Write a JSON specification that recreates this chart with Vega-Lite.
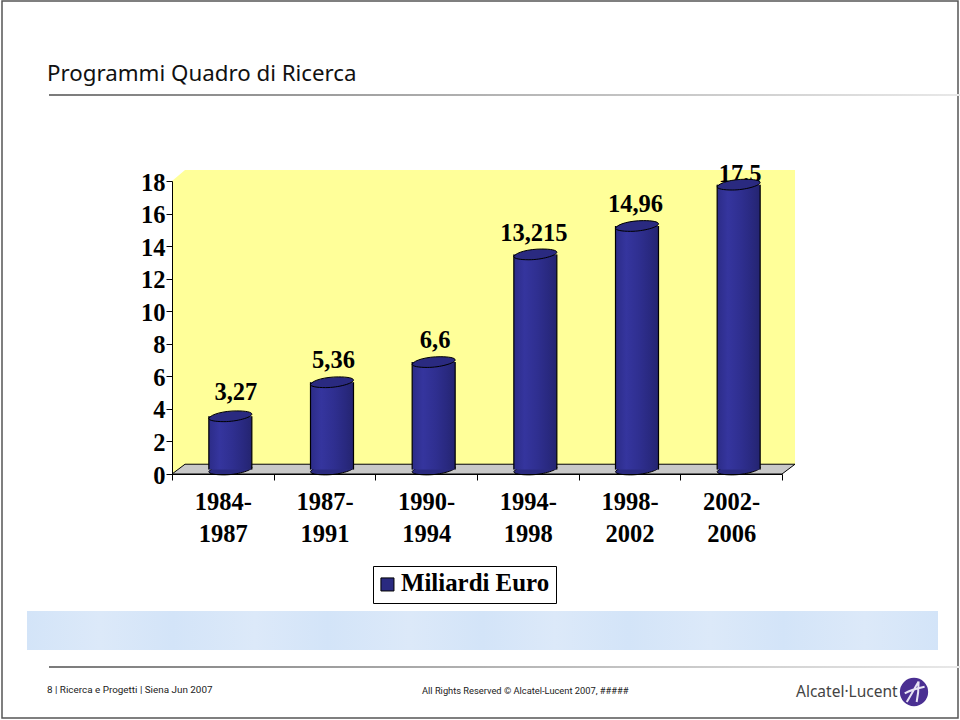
{
"$schema":"https://vega.github.io/schema/vega-lite/v6.json",
"width":610,"height":293,
"autosize":{"type":"none"},
"padding":{"left":172,"top":181,"right":178,"bottom":246},
"background":"white",
"title":{"text":"Programmi Quadro di Ricerca","anchor":"start","frame":"group","dx":-125,"offset":-85,"font":"Noto Sans","fontSize":22.3,"fontWeight":"normal","color":"#111111"},
"config":{"view":{"stroke":null}},
"datasets":{
"bars":[
{"periodo":"1984-1987","miliardi":3.27,"etichetta":"3,27","serie":"Miliardi Euro"},
{"periodo":"1987-1991","miliardi":5.36,"etichetta":"5,36","serie":"Miliardi Euro"},
{"periodo":"1990-1994","miliardi":6.6,"etichetta":"6,6","serie":"Miliardi Euro"},
{"periodo":"1994-1998","miliardi":13.215,"etichetta":"13,215","serie":"Miliardi Euro"},
{"periodo":"1998-2002","miliardi":14.96,"etichetta":"14,96","serie":"Miliardi Euro"},
{"periodo":"2002-2006","miliardi":17.5,"etichetta":"17,5","serie":"Miliardi Euro"}
],
"wall":[{"s":0,"a":0,"b":18},{"s":0.128,"a":0.6,"b":18.67},{"s":6.128,"a":0.6,"b":18.67}],
"floor":[{"s":0,"a":0,"b":0},{"s":0.128,"a":0,"b":0.6},{"s":6,"a":0,"b":0.6},{"s":6.128,"a":0.6,"b":0.6}]
},
"resolve":{"scale":{"x":"independent","y":"independent","color":"independent"},"axis":{"x":"independent","y":"independent"}},
"layer":[
{
"layer":[
{"data":{"values":[{"x0":2,"x1":958,"y0":1,"y1":718}]},
 "mark":{"type":"rect","fill":"white","stroke":"#555555","strokeWidth":1.5},
 "encoding":{"x":{"field":"x0","type":"quantitative","axis":null,"scale":{"domain":[0,960],"range":[-172,788],"nice":false}},"x2":{"field":"x1"},"y":{"field":"y0","type":"quantitative","axis":null,"scale":{"domain":[0,720],"range":[-181,539],"nice":false}},"y2":{"field":"y1"}}},
{"data":{"values":[{"x0":49,"x1":960,"y0":94,"y1":96},{"x0":49,"x1":960,"y0":666,"y1":668}]},
 "mark":{"type":"rect","fill":{"gradient":"linear","x1":0,"x2":1,"y1":0,"y2":0,"stops":[{"offset":0,"color":"#7a7a7a"},{"offset":0.5,"color":"#b5b5b5"},{"offset":1,"color":"#e8e8e8"}]}},
 "encoding":{"x":{"field":"x0","type":"quantitative"},"x2":{"field":"x1"},"y":{"field":"y0","type":"quantitative"},"y2":{"field":"y1"}}},
{"data":{"values":[{"x0":27,"x1":938,"y0":611,"y1":650}]},
 "mark":{"type":"rect","fill":{"gradient":"linear","x1":0,"x2":1,"y1":0,"y2":0,"stops":[{"offset":0,"color":"#d3e4f8"},{"offset":0.08,"color":"#dce9f9"},{"offset":0.16,"color":"#d3e4f8"},{"offset":0.25,"color":"#dce9f9"},{"offset":0.33,"color":"#d3e4f8"},{"offset":0.42,"color":"#dce9f9"},{"offset":0.5,"color":"#d3e4f8"},{"offset":0.58,"color":"#dce9f9"},{"offset":0.66,"color":"#d3e4f8"},{"offset":0.75,"color":"#dce9f9"},{"offset":0.83,"color":"#d3e4f8"},{"offset":0.92,"color":"#dce9f9"},{"offset":1,"color":"#d3e4f8"}]}},
 "encoding":{"x":{"field":"x0","type":"quantitative"},"x2":{"field":"x1"},"y":{"field":"y0","type":"quantitative"},"y2":{"field":"y1"}}},
{"data":{"values":[{"px":47,"py":690,"t":"8 | Ricerca e Progetti  | Siena Jun 2007"}]},
 "mark":{"type":"text","align":"left","baseline":"middle","font":"Roboto","fontSize":9.9,"color":"#222222"},
 "encoding":{"x":{"field":"px","type":"quantitative"},"y":{"field":"py","type":"quantitative"},"text":{"field":"t"}}},
{"data":{"values":[{"px":422,"py":691,"t":"All Rights Reserved © Alcatel-Lucent 2007, #####"}]},
 "mark":{"type":"text","align":"left","baseline":"middle","font":"Roboto","fontSize":9.3,"color":"#222222"},
 "encoding":{"x":{"field":"px","type":"quantitative"},"y":{"field":"py","type":"quantitative"},"text":{"field":"t"}}},
{"data":{"values":[{"px":796,"py":692,"t":"Alcatel·Lucent"}]},
 "mark":{"type":"text","align":"left","baseline":"middle","font":"Noto Sans","fontSize":15.5,"color":"#444444"},
 "encoding":{"x":{"field":"px","type":"quantitative"},"y":{"field":"py","type":"quantitative"},"text":{"field":"t"}}},
{"data":{"values":[{"px":914,"py":692}]},
 "mark":{"type":"point","shape":"circle","filled":true,"size":800,"fill":"#4a2f92","opacity":1},
 "encoding":{"x":{"field":"px","type":"quantitative"},"y":{"field":"py","type":"quantitative"}}},
{"data":{"values":[{"px":914,"py":692}]},
 "mark":{"type":"point","shape":"M-0.55,0.75 C-0.2,0.2 0.1,-0.4 0.35,-0.8 M0.35,-0.8 C0.35,-0.2 0.3,0.3 0.2,0.75 M-0.7,0.1 C-0.2,-0.2 0.3,-0.3 0.8,-0.4","filled":false,"size":700,"stroke":"#e8e4f4","strokeWidth":2,"opacity":1},
 "encoding":{"x":{"field":"px","type":"quantitative"},"y":{"field":"py","type":"quantitative"}}}
]
},
{
"layer":[
{"data":{"name":"wall"},
 "mark":{"type":"area","fill":"#ffff99","interpolate":"linear","opacity":1},
 "encoding":{"x":{"field":"s","type":"quantitative","axis":null,"scale":{"domain":[0,6],"nice":false}},"y":{"field":"a","type":"quantitative","axis":null,"scale":{"domain":[0,18],"nice":false}},"y2":{"field":"b"}}},
{"data":{"name":"floor"},
 "mark":{"type":"area","fill":"#c8c8c8","stroke":"black","strokeWidth":1,"interpolate":"linear","opacity":1},
 "encoding":{"x":{"field":"s","type":"quantitative"},"y":{"field":"a","type":"quantitative"},"y2":{"field":"b"}}}
]
},
{
"data":{"name":"bars"},
"encoding":{
 "x":{"field":"periodo","type":"nominal","sort":null,"scale":{"paddingInner":0,"paddingOuter":0},
  "axis":{"orient":"bottom","title":null,"labelAngle":0,"tickBand":"extent","labelExpr":"[slice(datum.label,0,5),slice(datum.label,5)]","labelFont":"Liberation Serif","labelFontWeight":"bold","labelFontSize":24.5,"labelColor":"black","labelLineHeight":32,"labelPadding":10,"tickSize":6,"tickColor":"black","domainColor":"black","labelBaseline":"top","zindex":1}},
 "y":{"type":"quantitative","scale":{"domain":[0,18],"nice":false},
  "axis":{"orient":"left","title":null,"values":[0,2,4,6,8,10,12,14,16,18],"labelOverlap":false,"labelFlush":false,"grid":false,"labelFont":"Liberation Serif","labelFontWeight":"bold","labelFontSize":24.5,"labelColor":"black","labelPadding":1,"labelOffset":2,"tickSize":6,"tickColor":"black","domainColor":"black","zindex":1}}
},
"layer":[
{"mark":{"type":"point","shape":"M-1,0.1 C-0.9,-0.1 -0.3,-0.25 0.3,-0.25 C0.7,-0.25 1,-0.2 1,-0.1 C1,0.05 0.3,0.25 -0.3,0.25 C-0.7,0.25 -1,0.2 -1,0.1 Z","filled":true,"size":1849,"fill":"#2a2a80","stroke":"black","strokeWidth":1,"xOffset":7.5,"yOffset":-4.5,"opacity":1},
 "encoding":{"y":{"datum":0}}},
{"mark":{"type":"bar","width":43,"xOffset":7.5,"yOffset":-4.5,"y2Offset":-4.5,"fill":{"gradient":"linear","x1":0,"x2":1,"y1":0,"y2":0,"stops":[{"offset":0,"color":"#2c2c88"},{"offset":0.25,"color":"#35359e"},{"offset":0.55,"color":"#2f2f90"},{"offset":0.8,"color":"#292980"},{"offset":1,"color":"#242470"}]}},
 "encoding":{"y":{"field":"miliardi"}}},
{"mark":{"type":"rule","stroke":"black","strokeWidth":1.2,"xOffset":-14,"x2Offset":-14,"yOffset":-4.5,"y2Offset":-4.5},
 "encoding":{"y":{"field":"miliardi"},"y2":{"datum":0}}},
{"mark":{"type":"rule","stroke":"black","strokeWidth":1.2,"xOffset":29,"x2Offset":29,"yOffset":-4.5,"y2Offset":-4.5},
 "encoding":{"y":{"field":"miliardi"},"y2":{"datum":0}}},
{"transform":[{"filter":"datum.miliardi < 4"}],
 "mark":{"type":"text","font":"Liberation Serif","fontWeight":"bold","fontSize":24.5,"color":"black","dy":-28,"xOffset":13},
 "encoding":{"y":{"field":"miliardi"},"text":{"field":"etichetta"}}},
{"transform":[{"filter":"datum.miliardi > 4 && datum.miliardi < 10"}],
 "mark":{"type":"text","font":"Liberation Serif","fontWeight":"bold","fontSize":24.5,"color":"black","dy":-26,"xOffset":9},
 "encoding":{"y":{"field":"miliardi"},"text":{"field":"etichetta"}}},
{"transform":[{"filter":"datum.miliardi > 10 && datum.miliardi < 17"}],
 "mark":{"type":"text","font":"Liberation Serif","fontWeight":"bold","fontSize":24.5,"color":"black","dy":-25,"xOffset":6},
 "encoding":{"y":{"field":"miliardi"},"text":{"field":"etichetta"}}},
{"transform":[{"filter":"datum.miliardi > 17"}],
 "mark":{"type":"text","font":"Liberation Serif","fontWeight":"bold","fontSize":24.5,"color":"black","dy":-14,"xOffset":9},
 "encoding":{"y":{"field":"miliardi"},"text":{"field":"etichetta"}}},
{"mark":{"type":"point","shape":"M-1,0.1 C-0.9,-0.1 -0.3,-0.25 0.3,-0.25 C0.7,-0.25 1,-0.2 1,-0.1 C1,0.05 0.3,0.25 -0.3,0.25 C-0.7,0.25 -1,0.2 -1,0.1 Z","filled":true,"size":1849,"stroke":"black","strokeWidth":1,"xOffset":7.5,"yOffset":-4.5,"opacity":1},
 "encoding":{"y":{"field":"miliardi"},
  "color":{"field":"serie","type":"nominal","scale":{"range":["#2a2a80"]},
   "legend":{"title":null,"orient":"none","legendX":201,"legendY":385,"symbolType":"square","symbolSize":170,"symbolOffset":-4,"symbolStrokeColor":"black","symbolStrokeWidth":1,"symbolOpacity":1,"labelFont":"Liberation Serif","labelFontWeight":"bold","labelFontSize":24.9,"labelColor":"black","labelOffset":1,"padding":6,"fillColor":"white","strokeColor":"black"}}}}
]
}
]
}
